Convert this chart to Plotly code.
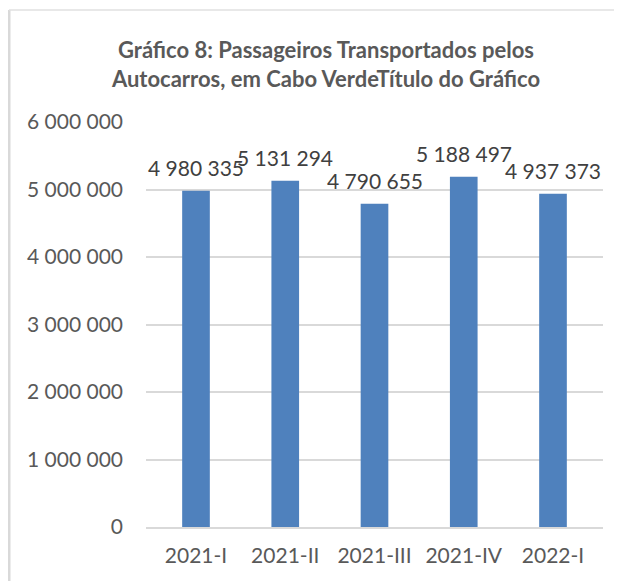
import plotly.graph_objects as go

categories = ["2021-I", "2021-II", "2021-III", "2021-IV", "2022-I"]
passengers = [4980335, 5131294, 4790655, 5188497, 4937373]
y_tickvals = [0, 1000000, 2000000, 3000000, 4000000, 5000000, 6000000]
y_ticktext = ["0", "1 000 000", "2 000 000", "3 000 000", "4 000 000", "5 000 000", "6 000 000"]
title_text = "<b>Gráfico 8: Passageiros Transportados pelos<br>Autocarros, em Cabo VerdeTítulo do Gráfico</b>"

# page has an 8px body margin; compensate
OFF = 8
W, H = 622, 581
L, R, T, B = 146 - OFF, 603 - OFF, 122 - OFF, 527 - OFF

def px_x(p):
    return (p - OFF - L) / (R - L)

def px_y(q):
    return (B - (q - OFF)) / (B - T)

grey = "#595959"
font_family = "Lato, 'Open Sans', sans-serif"

fig = go.Figure()
fig.add_trace(go.Bar(
    x=categories,
    y=passengers,
    marker=dict(color="#4F81BD", line=dict(width=0)),
    cliponaxis=False,
))

annotations = [
    dict(x=c, y=v, xref="x", yref="y", text=f"{v:,}".replace(",", " "),
         showarrow=False, yanchor="bottom", yshift=9,
         font=dict(size=21, color="#404040", family=font_family))
    for c, v in zip(categories, passengers)
]

fig.update_layout(
    width=W, height=H,
    margin=dict(l=L, r=W - R, t=T, b=H - B, pad=0),
    paper_bgcolor="white",
    plot_bgcolor="white",
    bargap=0.69,
    showlegend=False,
    font=dict(family=font_family, color=grey),
    title=dict(
        text=title_text,
        x=(326 - OFF) / W, xanchor="center",
        y=1 - (58 - OFF) / H, yanchor="middle",
        font=dict(size=22, color=grey, family=font_family),
    ),
    xaxis=dict(
        showgrid=False,
        showline=True, linecolor="#D9D9D9", linewidth=1.5,
        ticks="", tickfont=dict(size=21, color=grey),
        ticklabelstandoff=9,
    ),
    yaxis=dict(
        range=[0, 6000000],
        tickvals=y_tickvals, ticktext=y_ticktext,
        showgrid=True, gridcolor="#D9D9D9", gridwidth=1.5,
        zeroline=False, showline=False, ticks="",
        tickfont=dict(size=21, color=grey),
        ticklabelstandoff=22,
    ),
    annotations=annotations,
    shapes=[
        dict(type="line", xref="paper", yref="paper",
             x0=px_x(9), x1=px_x(9), y0=px_y(10), y1=px_y(H + OFF),
             line=dict(color="#D9D9D9", width=3)),
        dict(type="line", xref="paper", yref="paper",
             x0=px_x(9), x1=px_x(W + OFF), y0=px_y(10), y1=px_y(10),
             line=dict(color="#E0E0E0", width=1.5)),
    ],
)

fig.write_html("out.html")
